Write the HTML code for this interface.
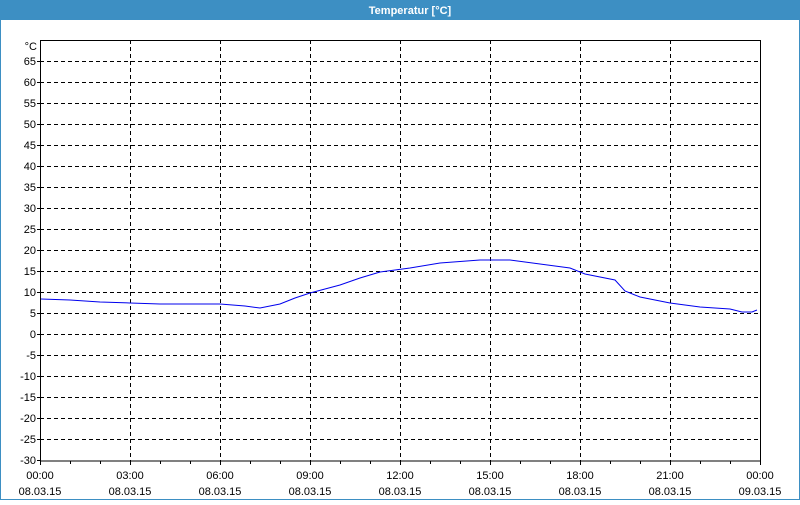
<!DOCTYPE html>
<html><head><style>
body{margin:0;width:800px;height:500px;overflow:hidden;background:#fff;font-family:"Liberation Sans",sans-serif}
</style></head><body>
<svg width="800" height="500" xmlns="http://www.w3.org/2000/svg" font-family="Liberation Sans, sans-serif" font-size="11">
<rect x="0" y="0" width="800" height="500" fill="#fff"/>
<rect x="0.5" y="0.5" width="799" height="499" fill="none" stroke="#3d8fc3"/>
<rect x="0" y="0" width="800" height="20" fill="#3d8fc3"/>
<text x="410" y="14" fill="#fff" font-weight="bold" text-anchor="middle">Temperatur [°C]</text>
<g stroke="#000" stroke-dasharray="4,3" stroke-width="1">
<line x1="40" x2="760" y1="61.5" y2="61.5"/><line x1="40" x2="760" y1="82.5" y2="82.5"/><line x1="40" x2="760" y1="103.5" y2="103.5"/><line x1="40" x2="760" y1="124.5" y2="124.5"/><line x1="40" x2="760" y1="145.5" y2="145.5"/><line x1="40" x2="760" y1="166.5" y2="166.5"/><line x1="40" x2="760" y1="187.5" y2="187.5"/><line x1="40" x2="760" y1="208.5" y2="208.5"/><line x1="40" x2="760" y1="229.5" y2="229.5"/><line x1="40" x2="760" y1="250.5" y2="250.5"/><line x1="40" x2="760" y1="271.5" y2="271.5"/><line x1="40" x2="760" y1="292.5" y2="292.5"/><line x1="40" x2="760" y1="313.5" y2="313.5"/><line x1="40" x2="760" y1="334.5" y2="334.5"/><line x1="40" x2="760" y1="355.5" y2="355.5"/><line x1="40" x2="760" y1="376.5" y2="376.5"/><line x1="40" x2="760" y1="397.5" y2="397.5"/><line x1="40" x2="760" y1="418.5" y2="418.5"/><line x1="40" x2="760" y1="439.5" y2="439.5"/>
<line x1="130.5" x2="130.5" y1="40" y2="461"/><line x1="220.5" x2="220.5" y1="40" y2="461"/><line x1="310.5" x2="310.5" y1="40" y2="461"/><line x1="400.5" x2="400.5" y1="40" y2="461"/><line x1="490.5" x2="490.5" y1="40" y2="461"/><line x1="580.5" x2="580.5" y1="40" y2="461"/><line x1="670.5" x2="670.5" y1="40" y2="461"/>
</g>
<rect x="40.5" y="40.5" width="720" height="420.5" fill="none" stroke="#000"/>
<g stroke="#000">
<path d="M40.5 461v4M70.5 461v3M100.5 461v3M130.5 461v4M160.5 461v3M190.5 461v3M220.5 461v4M250.5 461v3M280.5 461v3M310.5 461v4M340.5 461v3M370.5 461v3M400.5 461v4M430.5 461v3M460.5 461v3M490.5 461v4M520.5 461v3M550.5 461v3M580.5 461v4M610.5 461v3M640.5 461v3M670.5 461v4M700.5 461v3M730.5 461v3M760.5 461v4"/>
<path d="M37 61.5h3M37 82.5h3M37 103.5h3M37 124.5h3M37 145.5h3M37 166.5h3M37 187.5h3M37 208.5h3M37 229.5h3M37 250.5h3M37 271.5h3M37 292.5h3M37 313.5h3M37 334.5h3M37 355.5h3M37 376.5h3M37 397.5h3M37 418.5h3M37 439.5h3M37 460.5h3"/>
</g>
<g text-anchor="end">
<text x="37" y="50">°C</text>
<text x="36" y="65">65</text><text x="36" y="86">60</text><text x="36" y="107">55</text><text x="36" y="128">50</text><text x="36" y="149">45</text><text x="36" y="170">40</text><text x="36" y="191">35</text><text x="36" y="212">30</text><text x="36" y="233">25</text><text x="36" y="254">20</text><text x="36" y="275">15</text><text x="36" y="296">10</text><text x="36" y="317">5</text><text x="36" y="338">0</text><text x="36" y="359">-5</text><text x="36" y="380">-10</text><text x="36" y="401">-15</text><text x="36" y="422">-20</text><text x="36" y="443">-25</text><text x="36" y="464">-30</text>
</g>
<g text-anchor="middle">
<text x="40" y="479">00:00</text><text x="40" y="495">08.03.15</text>
<text x="130" y="479">03:00</text><text x="130" y="495">08.03.15</text>
<text x="220" y="479">06:00</text><text x="220" y="495">08.03.15</text>
<text x="310" y="479">09:00</text><text x="310" y="495">08.03.15</text>
<text x="400" y="479">12:00</text><text x="400" y="495">08.03.15</text>
<text x="490" y="479">15:00</text><text x="490" y="495">08.03.15</text>
<text x="580" y="479">18:00</text><text x="580" y="495">08.03.15</text>
<text x="670" y="479">21:00</text><text x="670" y="495">08.03.15</text>
<text x="760" y="479">00:00</text><text x="760" y="495">09.03.15</text>
</g>
<polyline fill="none" stroke="#0000ee" stroke-width="1" points="41,299 70,300 100,302 130,303 160,304 190,304 220,304 245,306 260,308 280,304 295,298 310,293 340,285 360,278 380,272 410,268 440,263 480,260 510,260 540,264 570,268 585,274 615,280 625,291 640,297 670,303 700,307 730,309 742,312 752,312 757,310"/>
</svg>
</body></html>
